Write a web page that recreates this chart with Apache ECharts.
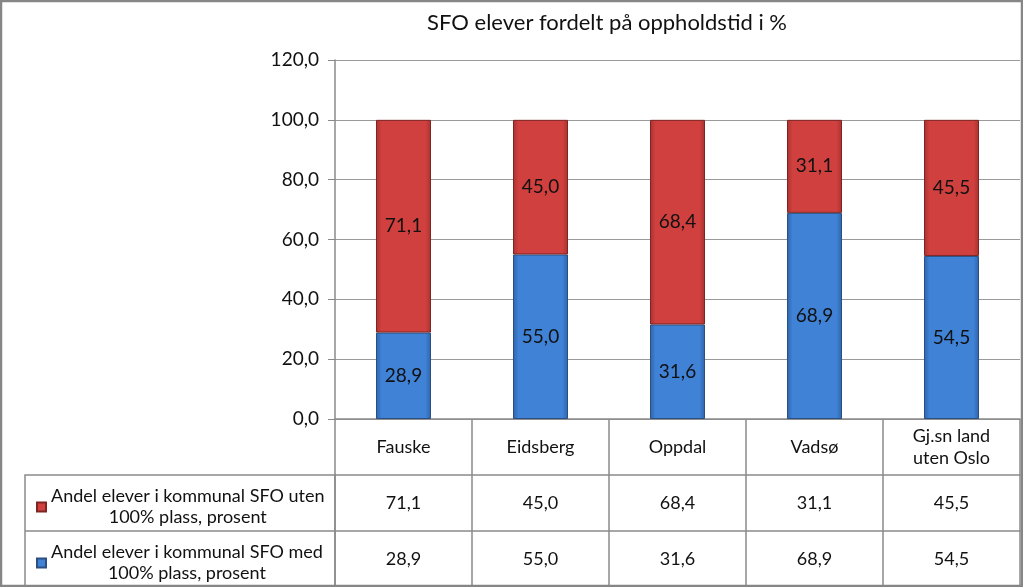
<!DOCTYPE html>
<html><head><meta charset="utf-8">
<script src="https://cdn.jsdelivr.net/npm/echarts@6/dist/echarts.min.js"></script>
<style>html,body{margin:0;padding:0;background:#fff}#c{width:1023px;height:587px}</style>
</head><body><div id="c"></div>
<script>
const categories = ['Fauske', 'Eidsberg', 'Oppdal', 'Vadsø', 'Gj.sn land\nuten Oslo'];
const utenValues = [71.1, 45.0, 68.4, 31.1, 45.5];
const medValues = [28.9, 55.0, 31.6, 68.9, 54.5];
const utenName = 'Andel elever i kommunal SFO uten 100% plass, prosent';
const medName = 'Andel elever i kommunal SFO med 100% plass, prosent';
const yTicks = [0, 20, 40, 60, 80, 100, 120];
const title = 'SFO elever fordelt på oppholdstid i %';

const fmt = v => Number(v).toFixed(1).replace('.', ',');
const FONT = 'Lato';
const TXT = 18;
const chart = echarts.init(document.getElementById('c'));

function grad(top, bottom) {
  return new echarts.graphic.LinearGradient(0, 0, 1, 0, [
    {offset: 0, color: bottom}, {offset: 0.1, color: top}, {offset: 0.9, color: top}, {offset: 1, color: bottom}
  ]);
}
const blue = grad('#3F82D6', '#2F64AA');
const red = grad('#D0403E', '#A83230');

const tableAxis = (vals, offset, isNum) => ({
  type: 'category', gridIndex: 0, position: 'bottom', offset: offset,
  data: isNum ? vals.map(fmt) : vals,
  axisLine: {show: true, lineStyle: {color: '#8a8a8a', width: 1.5}},
  axisTick: {show: true, length: 56, lineStyle: {color: '#8a8a8a', width: 1.5}},
  axisLabel: {margin: 28, verticalAlign: 'middle', color: '#111', fontSize: TXT, fontFamily: FONT, lineHeight: 22, interval: 0},
  splitLine: {show: false}
});

chart.setOption({
  animation: false,
  backgroundColor: '#fff',
  title: {text: title, left: 602, top: 7, textAlign: 'center',
    textStyle: {fontFamily: FONT, fontSize: 22, fontWeight: 'normal', color: '#111'}},
  grid: {left: 335, right: 3, top: 60, bottom: 168, containLabel: false},
  legend: {
    orient: 'vertical', left: 31, top: 481, itemGap: 14, height: 110,
    itemWidth: 9, itemHeight: 9, icon: 'rect',
    data: [utenName, medName],
    formatter: n => {
      const p = n.split(' 100%');
      return '{a|' + p[0] + '}\n{b|100%' + p[1] + '}';
    },
    textStyle: {fontFamily: FONT, fontSize: TXT, color: '#111', lineHeight: 21,
      rich: {a: {fontFamily: FONT, fontSize: TXT, color: '#111', lineHeight: 21},
             b: {fontFamily: FONT, fontSize: TXT, color: '#111', lineHeight: 21, align: 'center'}}}
  },
  xAxis: [
    tableAxis(categories, 0, false),
    tableAxis(utenValues, 56, true),
    tableAxis(medValues, 112, true)
  ],
  yAxis: {
    type: 'value', min: 0, max: 120, interval: 20,
    axisLine: {show: true, lineStyle: {color: '#8a8a8a', width: 1.5}},
    axisTick: {show: true, length: 7, lineStyle: {color: '#8a8a8a'}},
    axisLabel: {margin: 16, color: '#111', fontSize: 19, fontFamily: FONT, formatter: v => fmt(v)},
    splitLine: {show: true, lineStyle: {color: '#9a9a9a', width: 1.2}}
  },
  series: [
    {name: medName, type: 'bar', stack: 'a', data: medValues, barWidth: 55, xAxisIndex: 0,
      itemStyle: {color: blue, borderColor: '#2A4F80', borderWidth: 1},
      label: {show: true, position: 'inside', formatter: p => fmt(p.value), color: '#111', fontSize: 19, fontFamily: FONT}},
    {name: utenName, type: 'bar', stack: 'a', data: utenValues, barWidth: 55, xAxisIndex: 0,
      itemStyle: {color: red, borderColor: '#7E2524', borderWidth: 1},
      label: {show: true, position: 'inside', formatter: p => fmt(p.value), color: '#111', fontSize: 19, fontFamily: FONT}}
  ],
  graphic: [
    {type: 'rect', shape: {x: 25, y: 475, width: 310, height: 111}, style: {fill: 'none', stroke: '#8a8a8a', lineWidth: 1.5}, z: 10},
    {type: 'line', shape: {x1: 25, y1: 531, x2: 335, y2: 531}, style: {stroke: '#8a8a8a', lineWidth: 1.5}, z: 10},
    {type: 'rect', shape: {x: 1, y: 1, width: 1021, height: 585}, style: {fill: 'none', stroke: '#868686', lineWidth: 2.5}, z: 20}
  ]
});
</script></body></html>
